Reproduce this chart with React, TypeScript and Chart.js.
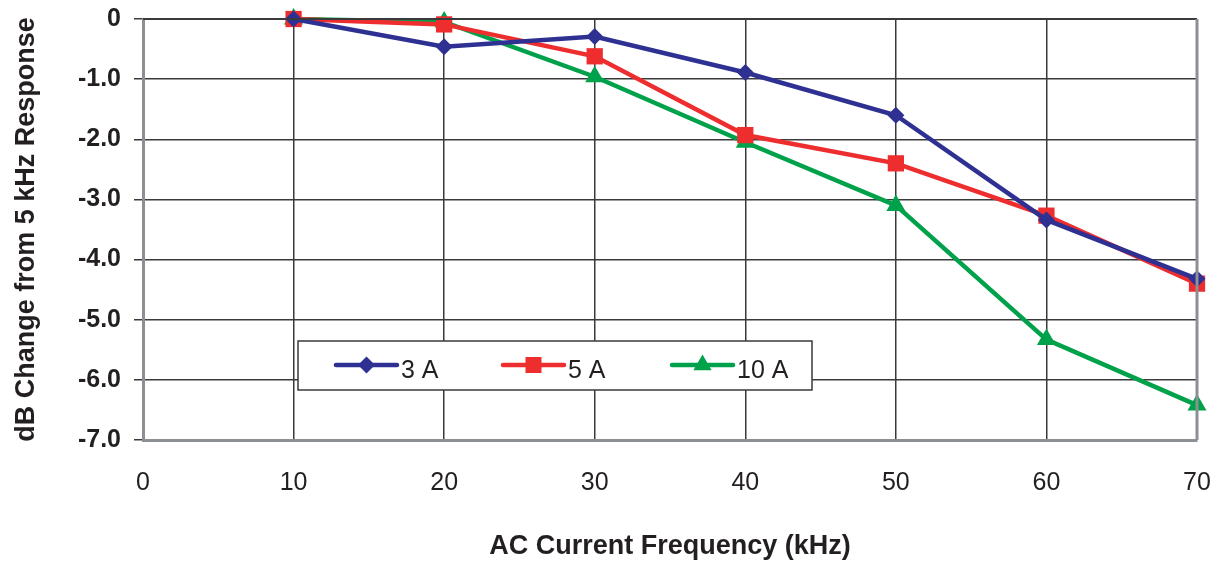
import React, { useEffect, useRef } from "react";
import { Chart, registerables } from "chart.js";

Chart.register(...registerables);

const frequencies = [10, 20, 30, 40, 50, 60, 70];
const series3A = [0, -0.46, -0.29, -0.89, -1.6, -3.34, -4.32];
const series5A = [0, -0.09, -0.62, -1.93, -2.4, -3.27, -4.4];
const series10A = [0, -0.05, -0.96, -2.05, -3.1, -5.33, -6.42];
const seriesLabels = ["3 A", "5 A", "10 A"];
const xTitle = "AC Current Frequency (kHz)";
const yTitle = "dB Change from 5 kHz Response";

const FONT = "'Liberation Sans', Arial, Helvetica, sans-serif";

const frameAndLegend = {
  id: "frameAndLegend",
  afterDatasetsDraw(chart: any) {
    const { ctx, chartArea } = chart;
    const { left, top, right, bottom } = chartArea;
    ctx.save();
    // top border
    ctx.strokeStyle = "#3a3a3c";
    ctx.lineWidth = 2;
    ctx.beginPath();
    ctx.moveTo(left, top);
    ctx.lineTo(right, top);
    ctx.stroke();
    // right border
    ctx.strokeStyle = "#8c8f94";
    ctx.lineWidth = 3;
    ctx.beginPath();
    ctx.moveTo(right, top);
    ctx.lineTo(right, bottom);
    ctx.stroke();

    // legend box
    const bx = left + 155;
    const by = top + 322;
    const bw = 514;
    const bh = 49;
    ctx.fillStyle = "#ffffff";
    ctx.fillRect(bx, by, bw, bh);
    ctx.strokeStyle = "#3a3a3c";
    ctx.lineWidth = 1.5;
    ctx.strokeRect(bx, by, bw, bh);

    const ly = by + 24;
    const starts = [bx + 38, bx + 205, bx + 374];
    chart.data.datasets.forEach((ds: any, i: number) => {
      const x0 = starts[i];
      const x1 = x0 + 61;
      ctx.strokeStyle = ds.borderColor;
      ctx.lineWidth = 4.5;
      ctx.lineCap = "round";
      ctx.beginPath();
      ctx.moveTo(x0, ly);
      ctx.lineTo(x1, ly);
      ctx.stroke();
      const mx = (x0 + x1) / 2;
      ctx.fillStyle = ds.backgroundColor;
      ctx.beginPath();
      if (ds.pointStyle === "rectRot") {
        const r = 8.5;
        ctx.moveTo(mx, ly - r);
        ctx.lineTo(mx + r, ly);
        ctx.lineTo(mx, ly + r);
        ctx.lineTo(mx - r, ly);
        ctx.closePath();
      } else if (ds.pointStyle === "rect") {
        ctx.rect(mx - 8, ly - 8, 16, 16);
      } else {
        const r = 10.5;
        ctx.moveTo(mx, ly - r);
        ctx.lineTo(mx + r * 0.866, ly + r * 0.5);
        ctx.lineTo(mx - r * 0.866, ly + r * 0.5);
        ctx.closePath();
      }
      ctx.fill();
      ctx.fillStyle = "#231f20";
      ctx.font = `25px ${FONT}`;
      ctx.textAlign = "left";
      ctx.textBaseline = "middle";
      ctx.fillText(ds.label, x1 + 4, ly + 6);
    });
    ctx.restore();
  },
};

export default function App() {
  const ref = useRef<HTMLCanvasElement | null>(null);

  useEffect(() => {
    document.body.style.margin = "0";
    const canvas = ref.current;
    if (!canvas) return;
    const mk = (vals: number[]) => frequencies.map((f, i) => ({ x: f, y: vals[i] }));
    const common = {
      borderWidth: 4.5,
      pointBorderWidth: 0,
      tension: 0,
      clip: false,
    };
    const chart = new Chart(canvas, {
      type: "line",
      data: {
        datasets: [
          {
            ...common,
            label: seriesLabels[0],
            data: mk(series3A),
            borderColor: "#2e3192",
            backgroundColor: "#2e3192",
            pointStyle: "rectRot",
            pointRadius: 8.5,
          },
          {
            ...common,
            label: seriesLabels[1],
            data: mk(series5A),
            borderColor: "#ee2d2f",
            backgroundColor: "#ee2d2f",
            pointStyle: "rect",
            pointRadius: 11.5,
          },
          {
            ...common,
            label: seriesLabels[2],
            data: mk(series10A),
            borderColor: "#00a14b",
            backgroundColor: "#00a14b",
            pointStyle: "triangle",
            pointRadius: 11,
          },
        ],
      },
      options: {
        animation: false,
        responsive: false,
        maintainAspectRatio: false,
        layout: { padding: { left: 0, top: 19, right: 24, bottom: 0 } },
        plugins: {
          legend: { display: false },
          tooltip: { enabled: false },
        },
        scales: {
          x: {
            type: "linear",
            min: 0,
            max: 70,
            afterFit: (scale: any) => {
              scale.height = 121;
              scale.paddingLeft = 0;
              scale.paddingRight = 0;
            },
            ticks: {
              stepSize: 10,
              padding: 28,
              color: "#231f20",
              font: { family: FONT, size: 25 },
              maxRotation: 0,
            },
            grid: {
              color: "#3a3a3c",
              lineWidth: 1.5,
              drawTicks: false,
            },
            border: { display: true, color: "#8c8f94", width: 3 },
            title: {
              display: true,
              text: xTitle,
              color: "#231f20",
              font: { family: FONT, size: 27, weight: "bold", lineHeight: 1.0 },
              padding: { top: 0, bottom: 0.5 },
            },
          },
          y: {
            type: "linear",
            min: -7,
            max: 0,
            afterFit: (scale: any) => {
              scale.width = 143;
              scale.paddingTop = 0;
              scale.paddingBottom = 0;
            },
            ticks: {
              stepSize: 1,
              padding: 13,
              color: "#231f20",
              font: { family: FONT, size: 25, weight: "bold" },
              callback: (v: any) => (Number(v) === 0 ? "0" : Number(v).toFixed(1)),
            },
            grid: {
              color: "#3a3a3c",
              lineWidth: 1.5,
              drawTicks: true,
              tickLength: 9,
            },
            border: { display: true, color: "#8c8f94", width: 3 },
            title: {
              display: true,
              text: yTitle,
              color: "#231f20",
              font: { family: FONT, size: 27, weight: "bold" },
              padding: { top: 10, bottom: 0 },
            },
          },
        },
      },
      plugins: [frameAndLegend],
    } as any);
    return () => chart.destroy();
  }, []);

  return (
    <div style={{ width: 1221, height: 561, background: "#ffffff" }}>
      <canvas ref={ref} width={1221} height={561} style={{ display: "block" }} />
    </div>
  );
}
